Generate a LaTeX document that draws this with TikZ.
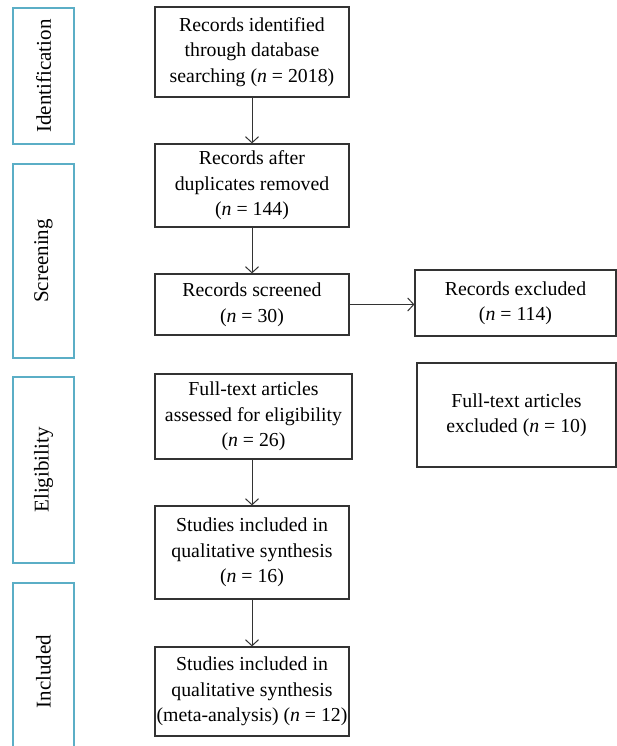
\documentclass[tikz,border=0pt]{standalone}
\usepackage{fontspec}
\setmainfont{Liberation Serif}
\usetikzlibrary{arrows.meta}
\definecolor{stageblue}{HTML}{5BAEC6}
\definecolor{boxline}{HTML}{333333}

\begin{document}
\begin{tikzpicture}[x=1pt, y=-1pt,
  box/.style={rectangle, draw=boxline, line width=1.2pt, minimum width=194, align=center, inner sep=1pt, font=\fontsize{19.8}{25.5}\selectfont},
  stage/.style={rectangle, draw=stageblue, line width=1.4pt, rotate=90, minimum height=61, font=\fontsize{21}{25}\selectfont},
  arr/.style={-{Straight Barb[length=6pt, width=13pt]}, line width=1pt, boxline}
]
  \useasboundingbox (0,0) rectangle (617,746);
  % stages on the left
  \node[stage, minimum width=136] (idf) at (43.5,76) {Identification};
  \node[stage, minimum width=194] (scr) at (43.5,261) {Screening};
  \node[stage, minimum width=186] (elg) at (43.5,470) {Eligibility};
  \node[stage, minimum width=177] (inc) at (43.5,671.5) {Included};
  % main column
  \node[box, minimum height=90] (rid) at (252,52) {Records identified\\through database\\searching (\textit{n} = 2018)};
  \node[box, minimum height=83] (rdup) at (252,185.5) {Records after\\duplicates removed\\(\textit{n} = 144)};
  \node[box, minimum height=61] (rscr) at (252,304.5) {Records screened\\(\textit{n} = 30)};
  \node[box, minimum height=85, minimum width=197] (full) at (253.5,416.5) {Full-text articles\\assessed for eligibility\\(\textit{n} = 26)};
  \node[box, minimum height=93] (qual) at (252,552.5) {Studies included in\\qualitative synthesis\\(\textit{n} = 16)};
  \node[box, minimum height=89] (meta) at (252,691.5) {Studies included in\\qualitative synthesis\\(meta-analysis) (\textit{n} = 12)};
  % exclusions
  \node[box, minimum width=201, minimum height=66] (rexc) at (515.5,303) {Records excluded\\(\textit{n} = 114)};
  \node[box, minimum width=199, minimum height=104] (fexc) at (516.5,415) {Full-text articles\\excluded (\textit{n} = 10)};
  % arrows
  \draw[arr] (rid) -- (rdup);
  \draw[arr] (rdup) -- (rscr);
  \draw[arr] (rscr.east) -- (rexc.west |- rscr.east);
  \draw[arr] (full.south -| qual) -- (qual);
  \draw[arr] (qual) -- (meta);
\end{tikzpicture}
\end{document}
